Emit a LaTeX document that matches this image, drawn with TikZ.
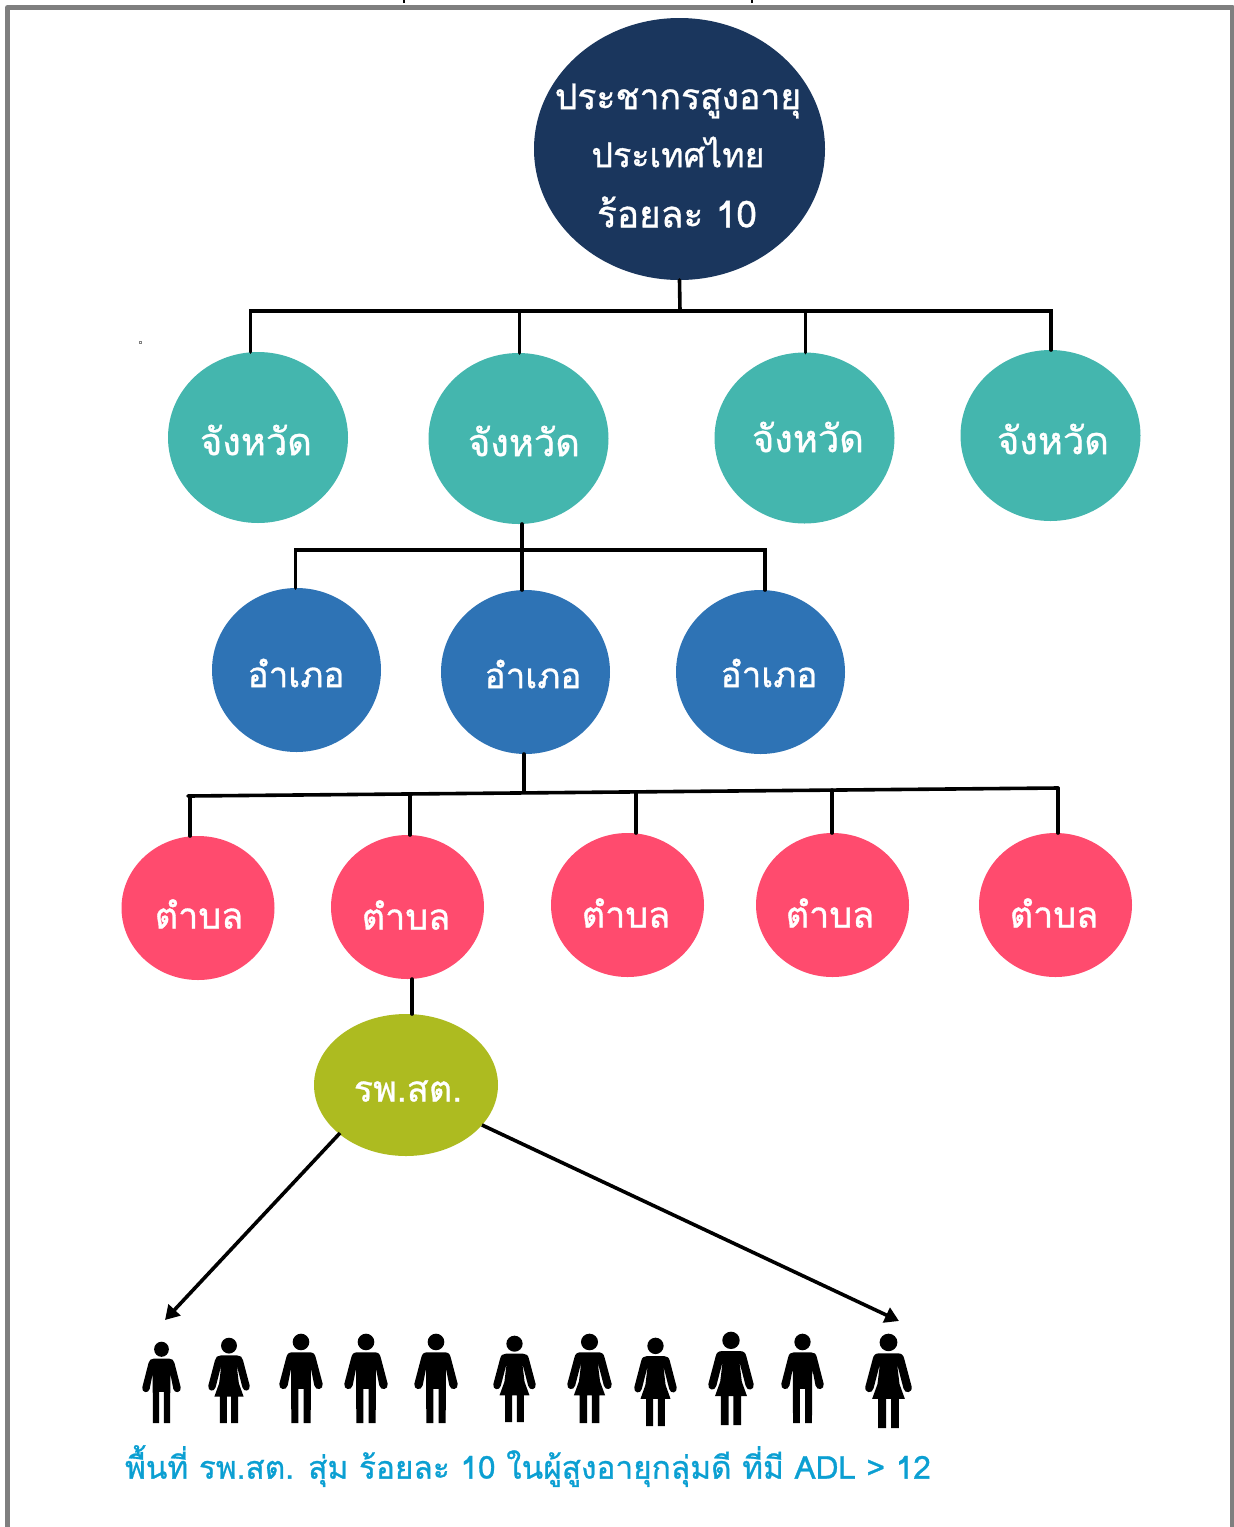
\documentclass[tikz,border=0pt]{standalone}
\usepackage{fontspec}
\usetikzlibrary{arrows.meta,shapes.geometric}
\newfontfamily\thaifont[Script=Thai,FakeBold=0.9]{Loma}
\definecolor{navy}{HTML}{1A365D}
\definecolor{tealc}{HTML}{44B6AE}
\definecolor{bluec}{HTML}{2E73B5}
\definecolor{pinkc}{HTML}{FF4B6E}
\definecolor{olivec}{HTML}{ADBB20}
\definecolor{capc}{HTML}{0B9FD2}
\definecolor{framec}{HTML}{7F7F7F}
\tikzset{
  x=1pt,y=-1pt,
  blob/.style={ellipse,inner sep=0pt,outer sep=0pt,draw=none},
  navyblob/.style={blob,fill=navy,minimum width=291pt,minimum height=262pt},
  tealblob/.style={blob,fill=tealc,minimum width=180pt,minimum height=171pt},
  blueblob/.style={blob,fill=bluec,minimum width=169pt,minimum height=164pt},
  pinkblob/.style={blob,fill=pinkc,minimum width=153pt,minimum height=144pt},
  oliveblob/.style={blob,fill=olivec,minimum width=184pt,minimum height=142pt},
  lbl/.style={text=white,font=\thaifont\fontsize{36}{58}\selectfont,align=center,inner sep=0pt},
  tealtext/.style={lbl,font=\thaifont\fontsize{38}{58}\selectfont},
  bluetext/.style={lbl,font=\thaifont\fontsize{35}{58}\selectfont},
  link/.style={draw=black,line width=3.6pt,line cap=round},
  pointer/.style={draw=black,line width=3.6pt,-{Stealth[length=14pt,width=16pt,inset=0pt]}},
}
% person shapes: bounding box given as left, top, right, bottom in pixels
\newcommand{\manfig}[4]{%
  \begin{scope}[shift={(#1,#2)},xscale={(#3-#1)/132},yscale={(#4-#2)/268}]
    \fill[black] (66,24) circle[radius=25];
    \fill[black] (40,55) .. controls (30,55) and (24,60) .. (22,70)
      -- (1,150) .. controls (-2,168) and (22,172) .. (26,155)
      -- (36,105) -- (37,268) -- (58,268) -- (58,165) -- (74,165) -- (74,268) -- (95,268)
      -- (96,105) -- (106,155) .. controls (110,172) and (134,168) .. (131,150)
      -- (110,70) .. controls (108,60) and (102,55) .. (92,55) -- cycle;
  \end{scope}}
\newcommand{\womanfig}[4]{%
  \begin{scope}[shift={(#1,#2)},xscale={(#3-#1)/132},yscale={(#4-#2)/268}]
    \fill[black] (66,24) circle[radius=25];
    \fill[black] (40,55) .. controls (30,55) and (24,60) .. (22,70)
      -- (1,150) .. controls (-2,168) and (20,172) .. (24,155)
      -- (42,85) -- (35,143) -- (20,185) -- (37,185) -- (37,268) -- (59,268) -- (59,185) -- (73,185) -- (73,268) -- (95,268) -- (95,185) -- (112,185)
      -- (97,143) -- (90,85) -- (108,155) .. controls (112,172) and (134,168) .. (131,150)
      -- (110,70) .. controls (108,60) and (102,55) .. (92,55) -- cycle;
  \end{scope}}
\begin{document}
\begin{tikzpicture}
\useasboundingbox (0,0) rectangle (1234,1527);
% frame
\draw[framec,line width=5pt,line join=round] (7.5,1530) -- (7.5,7.5) -- (1232,7.5) -- (1232,1530);
\coordinate (stubA) at (404,0); \coordinate (stubB) at (752,0);
\draw[black,line width=1.5pt] (stubA) -- ++(0,3);
\draw[black,line width=1.5pt] (stubB) -- ++(0,3);
\draw[gray,line width=0.4pt] (139,341) rectangle (141,343);
% junctions
\coordinate (busA) at (680,311);
\coordinate (busAl) at (250.5,311);
\coordinate (busAr) at (1051,311);
\coordinate (busB) at (522,550);
\coordinate (busBl) at (295.5,550);
\coordinate (busBr) at (765,550);
\coordinate (busC) at (524,792);
\coordinate (busCl) at (188,796);
\coordinate (busCr) at (1058,788);
\coordinate (busTwo) at (519.5,311);
\coordinate (busThree) at (805.5,311);
% nodes
\node[navyblob] (root) at (679.5,149) {};
\node[tealblob] (t1) at (258,437.5) {};
\node[tealblob] (t2) at (518.5,438.5) {};
\node[tealblob] (t3) at (804.5,438) {};
\node[tealblob] (t4) at (1050.5,435.5) {};
\node[blueblob] (b1) at (296.5,670) {};
\node[blueblob] (b2) at (525.5,672) {};
\node[blueblob] (b3) at (760.5,672) {};
\node[pinkblob] (p1) at (198,908) {};
\node[pinkblob] (p2) at (407.5,907) {};
\node[pinkblob] (p3) at (627.5,905) {};
\node[pinkblob] (p4) at (832.5,905) {};
\node[pinkblob] (p5) at (1055.5,905) {};
\node[oliveblob] (hosp) at (406,1085) {};
% labels
\node[lbl,font=\thaifont\fontsize{35.5}{58}\selectfont] (rootlblA) at (678,101) {ประชากรสูงอายุ};
\node[lbl,font=\thaifont\fontsize{34}{58}\selectfont] (rootlblB) at (678,152) {ประเทศไทย};
\node[lbl,font=\thaifont\fontsize{37}{58}\selectfont] (rootlblC) at (677,212) {ร้อยละ 10};
\node[tealtext] (t1lbl) at (256,440) {จังหวัด};
\node[tealtext] (t2lbl) at (524,441) {จังหวัด};
\node[tealtext] (t3lbl) at (808,437) {จังหวัด};
\node[tealtext] (t4lbl) at (1053,439) {จังหวัด};
\node[bluetext] (b1lbl) at (296,673) {อำเภอ};
\node[bluetext] (b2lbl) at (533,674) {อำเภอ};
\node[bluetext] (b3lbl) at (769,673) {อำเภอ};
\node[lbl] (p1lbl) at (199,914) {ตำบล};
\node[lbl] (p2lbl) at (406,915) {ตำบล};
\node[lbl] (p3lbl) at (626,913) {ตำบล};
\node[lbl] (p4lbl) at (830,913) {ตำบล};
\node[lbl] (p5lbl) at (1054,913) {ตำบล};
\node[lbl] (hosplbl) at (408,1091) {รพ.สต.};
\node[text=capc,font=\thaifont\fontsize{31.6}{36}\selectfont,inner sep=0pt] (caption) at (528,1466) {พื้นที่ รพ.สต. สุ่ม ร้อยละ 10 ในผู้สูงอายุกลุ่มดี ที่มี ADL > 12};
% connectors
\draw[link] (root.south) -- (busA);
\draw[link,line join=miter] (busAl |- t1.north) -- (busAl) -- (busAr) -- (busAr |- t4.north);
\draw[link] (busTwo) -- (busTwo |- t2.north);
\draw[link] (busThree) -- (busThree |- t3.north);
\draw[link] (busB |- t2.south) -- (busB);
\draw[link] (busB) -- (busB |- b2.north);
\draw[link,line join=miter] (busBl |- b1.north) -- (busBl) -- (busBr) -- (busBr |- b3.north);
\draw[link] (busC |- b2.south) -- (busC);
\draw[link] (busCl) -- (busCr);
\coordinate (dropA) at (190,796); \coordinate (dropB) at (410,794.5); \coordinate (dropC) at (636,792);
\coordinate (dropD) at (832,790);
\draw[link] (dropA) -- (dropA |- p1.north);
\draw[link] (dropB) -- (dropB |- p2.north);
\draw[link] (dropC) -- (dropC |- p3.north);
\draw[link] (dropD) -- (dropD |- p4.north);
\draw[link] (busCr) -- (busCr |- p5.north);
\coordinate (dropE) at (412,979);
\draw[link] (dropE) -- (dropE |- hosp.north);
\coordinate (arrA) at (165,1320);
\coordinate (arrB) at (899,1321);
\coordinate (startA) at (340,1133);
\coordinate (startB) at (482,1125);
\draw[pointer] (startA) -- (arrA);
\draw[pointer] (startB) -- (arrB);
% people
\manfig{142}{1342}{181}{1423}
\womanfig{208}{1338}{250}{1423}
\manfig{279}{1334}{323}{1423}
\manfig{344}{1334}{388}{1423}
\manfig{414}{1334}{458}{1423}
\womanfig{493}{1336}{536}{1422}
\womanfig{567}{1334}{612}{1423}
\womanfig{634}{1338}{677}{1426}
\womanfig{708}{1332}{754}{1425}
\manfig{781}{1334}{824}{1423}
\womanfig{865}{1334}{912}{1428}
\end{tikzpicture}
\end{document}
